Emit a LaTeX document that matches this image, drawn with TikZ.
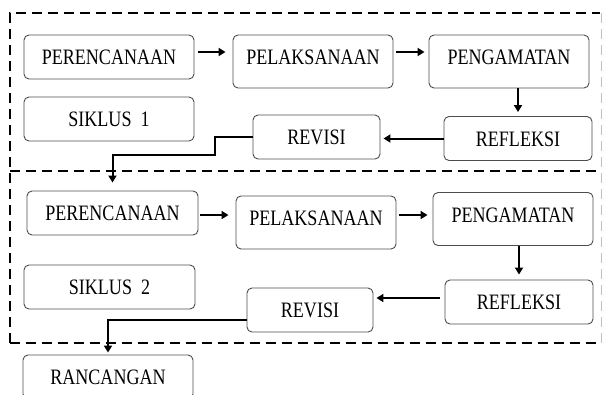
\documentclass[tikz,border=0pt]{standalone}
\usepackage{fontspec}
\setmainfont[FakeStretch=0.82]{Liberation Serif}
\usepackage{tikz}
\usetikzlibrary{arrows.meta, positioning, calc}

\begin{document}
\begin{tikzpicture}[x=1pt, y=-1pt,
    box/.style={draw=black!70, line width=0.9pt, rounded corners=5pt,
        font=\fontsize{22}{24}\selectfont, text height=15pt, text depth=0pt,
        inner ysep=14.5pt, inner xsep=0pt, minimum height=44pt},
    tallbox/.style={box, text depth=9pt},
    arr/.style={line width=2pt, -{Triangle[length=7pt,width=8pt]}},
    frame/.style={line width=2.3pt, dash pattern=on 10pt off 6pt},
    faintframe/.style={black!25, line width=0.5pt, dash pattern=on 10pt off 6pt}
]
    \useasboundingbox (0,0) rectangle (602,394);
    \clip (0,0) rectangle (602,394);

    % Cycle frames
    \draw[frame] (10,343) |- (600,13);
    \draw[frame] (10,171) -- (600,171);
    \draw[frame] (10,343) -- (600,343);
    \draw[faintframe] (601,13) -- (601,343);

    % Cycle 1 boxes
    \node[box, minimum width=170pt] (per1) at (109,57) {PERENCANAAN};
    \node[tallbox, minimum width=160pt] (pel1) at (313,61.5) {PELAKSANAAN};
    \node[tallbox, minimum width=160pt] (eng1) at (509,61.5) {PENGAMATAN};
    \node[box, minimum width=148pt] (ref1) at (518,138.5) {REFLEKSI};
    \node[box, minimum width=127pt] (rev1) at (316.5,137) {REVISI};
    \node[box, minimum width=170pt] (sik1) at (109,119) {SIKLUS\ \ 1};

    % Cycle 2 boxes
    \node[box, minimum width=171pt] (per2) at (112.5,213) {PERENCANAAN};
    \node[tallbox, minimum width=160pt] (pel2) at (316,222.5) {PELAKSANAAN};
    \node[tallbox, minimum width=160pt, minimum height=52pt] (eng2) at (513,219) {PENGAMATAN};
    \node[box, minimum width=148pt] (ref2) at (519,302) {REFLEKSI};
    \node[box, minimum width=126pt] (rev2) at (310,310) {REVISI};
    \node[box, minimum width=171pt] (sik2) at (109.5,287) {SIKLUS\ \ 2};

    % Result
    \node[box, minimum width=170pt] (ran) at (108,377) {RANCANGAN};

    \coordinate (j1) at (215,155);

    % Cycle 1 flow
    \draw[arr, shorten <=4pt, shorten >=7pt] ([yshift=5pt]per1.east) -- ([yshift=5pt]per1.east -| pel1.west);
    \draw[arr, shorten <=3pt, shorten >=4pt] ([yshift=5pt]per1.east -| pel1.east) -- ([yshift=5pt]per1.east -| eng1.west);
    \draw[arr, shorten >=4pt] (ref1.north |- eng1.south) -- (ref1.north);
    \draw[arr, shorten >=3pt] (ref1.west) -- (ref1.west -| rev1.east);
    \draw[arr, shorten >=8pt] (rev1.west) -| (j1) -| (per2.north);

    % Cycle 2 flow
    \draw[arr, shorten <=2pt, shorten >=7pt] ([yshift=-2pt]per2.east) -- ([yshift=-2pt]per2.east -| pel2.west);
    \draw[arr, shorten <=3pt, shorten >=5pt] ([yshift=-2pt]per2.east -| pel2.east) -- ([yshift=-2pt]per2.east -| eng2.west);
    \draw[arr, shorten >=5pt] (ref2.north |- eng2.south) -- (ref2.north);
    \draw[arr, shorten <=5pt, shorten >=3pt] ([yshift=4pt]ref2.west) -- ([yshift=4pt]ref2.west -| rev2.east);
    \draw[arr, shorten >=2pt] ([yshift=-10pt]rev2.west) -| (ran.north);
\end{tikzpicture}
\end{document}
